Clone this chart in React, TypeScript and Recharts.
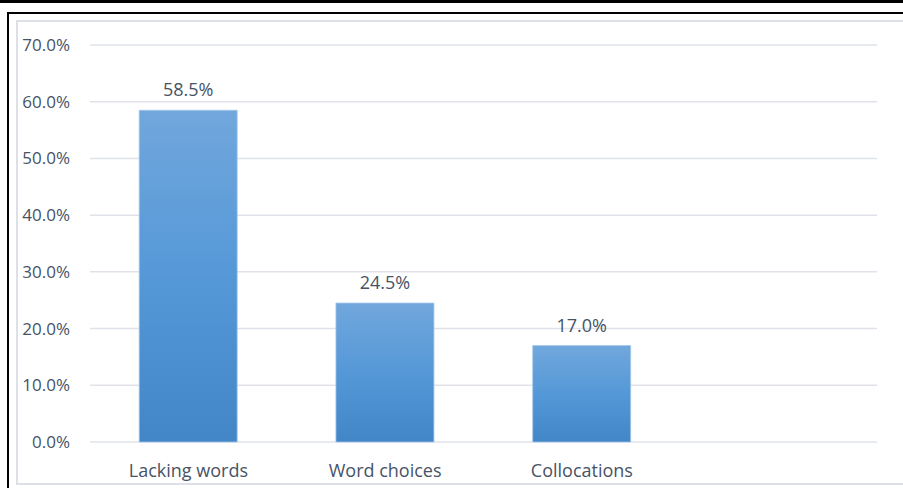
import React from "react";
import { BarChart, Bar, XAxis, YAxis, CartesianGrid, LabelList } from "recharts";

const categories = ["Lacking words", "Word choices", "Collocations", ""];
const values: (number | null)[] = [58.5, 24.5, 17.0, null];
const yTicks = [0, 10, 20, 30, 40, 50, 60, 70];

const data = categories.map((name, i) => ({ name, value: values[i] }));

const TEXT = "#465366";
const FONT = "'Open Sans', sans-serif";

export default function App() {
  return (
    <div style={{ position: "absolute", left: 0, top: 0, width: 903, height: 488, background: "#fff", overflow: "hidden" }}>
      <div style={{ position: "absolute", left: 0, top: 0, width: 903, height: 3, background: "#000" }} />
      <div style={{ position: "absolute", left: 7, top: 12, width: 900, height: 480, borderTop: "2px solid #000", borderLeft: "2px solid #000", boxSizing: "border-box" }} />
      <div style={{ position: "absolute", left: 16, top: 20, width: 900, height: 465, border: "2px solid #dde1e7", boxSizing: "border-box" }} />
      <div style={{ position: "absolute", left: 0, top: 0 }}>
        <BarChart
          width={903}
          height={488}
          data={data}
          margin={{ top: 45, right: 26, bottom: 0, left: 0 }}
          barCategoryGap="25%"
        >
          <defs>
            <linearGradient id="barGrad" x1="0" y1="0" x2="0" y2="1">
              <stop offset="0%" stopColor="#71a7dc" />
              <stop offset="50%" stopColor="#5598d8" />
              <stop offset="100%" stopColor="#4386c7" />
            </linearGradient>
          </defs>
          <CartesianGrid horizontal vertical={false} stroke="#dfe3e9" strokeWidth={1.5} />
          <XAxis
            dataKey="name"
            axisLine={false}
            tickLine={false}
            tickSize={0}
            tickMargin={22}
            height={46}
            interval={0}
            tick={{ fill: TEXT, fontSize: 18, fontFamily: FONT }}
          />
          <YAxis
            domain={[0, 70]}
            ticks={yTicks}
            axisLine={false}
            tickLine={false}
            tickSize={0}
            tickMargin={20}
            width={90}
            interval={0}
            tickFormatter={(v: number) => `${v.toFixed(1)}%`}
            tick={{ fill: TEXT, fontSize: 17, fontFamily: FONT }}
          />
          <Bar dataKey="value" fill="url(#barGrad)" stroke="#a4c6ea" strokeWidth={0.8} isAnimationActive={false}>
            <LabelList
              dataKey="value"
              position="top"
              offset={14}
              formatter={(v: any) => (v == null ? "" : `${Number(v).toFixed(1)}%`)}
              style={{ fill: TEXT, fontSize: 18, fontFamily: FONT }}
            />
          </Bar>
        </BarChart>
      </div>
    </div>
  );
}
